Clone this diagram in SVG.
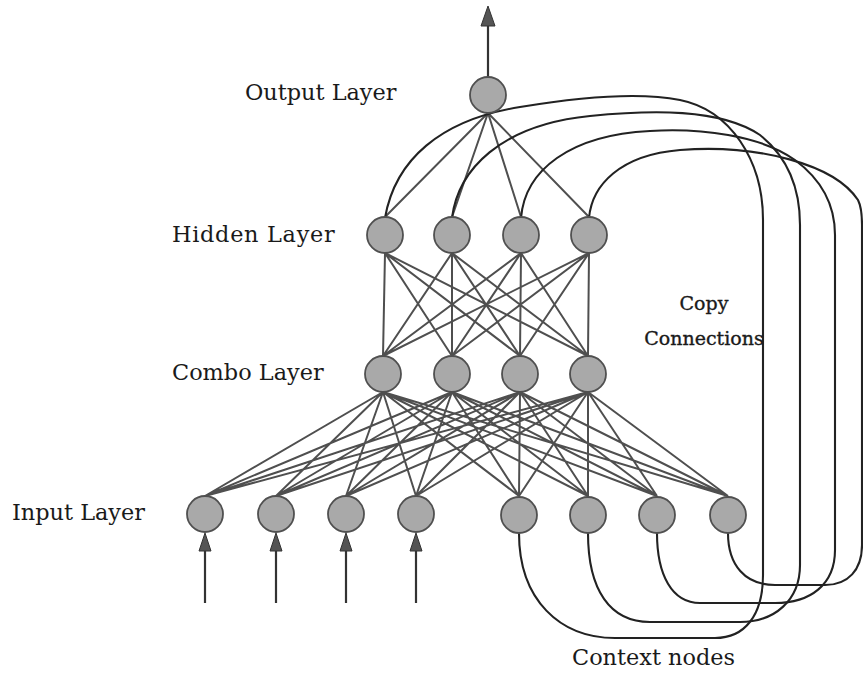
<svg xmlns="http://www.w3.org/2000/svg" width="863" height="673" viewBox="0 0 863 673">
<defs>
<style>
.bg{fill:#ffffff}
.node{fill:#a9a9a9;stroke:#505050;stroke-width:1.8}
.w{stroke:#4f4f4f;stroke-width:2;fill:none}
.cp{stroke:#222;stroke-width:2.1;fill:none}
.arr{stroke:#333;stroke-width:2.2;fill:none}
.head{fill:#555;stroke:#333;stroke-width:1}
.lbl{font-family:"DejaVu Serif","Liberation Serif",serif;font-size:22.4px;fill:#1a1a1a}
.lbl2{font-family:"DejaVu Serif","Liberation Serif",serif;font-size:19px;fill:#1a1a1a;stroke:#1a1a1a;stroke-width:0.35}
</style>
</defs>
<rect class="bg" x="0" y="0" width="863" height="673"/>

<g id="connectors">
  <!-- output arrow -->
  <line class="arr" x1="488" y1="77" x2="488" y2="24"/>
  <polygon class="head" points="488,6 481,26 495,26"/>
  <!-- input arrows -->
  <line class="arr" x1="205" y1="603" x2="205" y2="550"/>
  <polygon class="head" points="205,533 199,551 211,551"/>
  <line class="arr" x1="276" y1="603" x2="276" y2="550"/>
  <polygon class="head" points="276,533 270,551 282,551"/>
  <line class="arr" x1="346" y1="603" x2="346" y2="550"/>
  <polygon class="head" points="346,533 340,551 352,551"/>
  <line class="arr" x1="416" y1="603" x2="416" y2="550"/>
  <polygon class="head" points="416,533 410,551 422,551"/>

  <!-- output to hidden -->
  <path class="w" d="M488,113 L385,217 M488,113 L452,217 M488,113 L521,217 M488,113 L589,217"/>

  <!-- hidden to combo -->
  <path class="w" d="M385,253 L383,356 M385,253 L452,356 M385,253 L520,356 M385,253 L588,356
  M452,253 L383,356 M452,253 L452,356 M452,253 L520,356 M452,253 L588,356
  M521,253 L383,356 M521,253 L452,356 M521,253 L520,356 M521,253 L588,356
  M589,253 L383,356 M589,253 L452,356 M589,253 L520,356 M589,253 L588,356"/>

  <!-- combo to input -->
  <path class="w" d="M383,392 L205,496 M383,392 L276,496 M383,392 L346,496 M383,392 L416,496 M383,392 L519,496 M383,392 L588,496 M383,392 L657,496 M383,392 L728,496
  M452,392 L205,496 M452,392 L276,496 M452,392 L346,496 M452,392 L416,496 M452,392 L519,496 M452,392 L588,496 M452,392 L657,496 M452,392 L728,496
  M520,392 L205,496 M520,392 L276,496 M520,392 L346,496 M520,392 L416,496 M520,392 L519,496 M520,392 L588,496 M520,392 L657,496 M520,392 L728,496
  M588,392 L205,496 M588,392 L276,496 M588,392 L346,496 M588,392 L416,496 M588,392 L519,496 M588,392 L588,496 M588,392 L657,496 M588,392 L728,496"/>

  <!-- copy connections -->
  <path class="cp" d="M385,218 C395,160 440,120 520,107 C580,97 640,92 680,100 C730,110 763,160 763,220 L763,575 C763,615 745,638 715,638 L615,638 C560,638 519,600 519,533"/>
  <path class="cp" d="M452,218 C458,170 500,125 590,116 C650,110 720,108 760,135 C785,155 800,185 800,225 L800,565 C800,600 775,622 740,622 L650,622 C610,622 588,590 588,533"/>
  <path class="cp" d="M521,218 C525,170 570,135 650,131 C700,128 760,135 795,160 C822,180 835,205 835,235 L835,550 C835,585 810,603 775,603 L700,603 C672,603 657,575 657,533"/>
  <path class="cp" d="M589,218 C592,185 620,155 680,150 C760,144 835,165 858,200 C861,206 862,215 862,225 L862,545 C862,570 848,585 825,585 L775,585 C745,585 728,565 728,533"/>
</g>

<g id="output-node"><circle class="node" cx="488" cy="95" r="18"/></g>
<g id="hidden-1"><circle class="node" cx="385" cy="235" r="18"/></g>
<g id="hidden-2"><circle class="node" cx="452" cy="235" r="18"/></g>
<g id="hidden-3"><circle class="node" cx="521" cy="235" r="18"/></g>
<g id="hidden-4"><circle class="node" cx="589" cy="235" r="18"/></g>
<g id="combo-1"><circle class="node" cx="383" cy="374" r="18"/></g>
<g id="combo-2"><circle class="node" cx="452" cy="374" r="18"/></g>
<g id="combo-3"><circle class="node" cx="520" cy="374" r="18"/></g>
<g id="combo-4"><circle class="node" cx="588" cy="374" r="18"/></g>
<g id="input-1"><circle class="node" cx="205" cy="514" r="18"/></g>
<g id="input-2"><circle class="node" cx="276" cy="514" r="18"/></g>
<g id="input-3"><circle class="node" cx="346" cy="514" r="18"/></g>
<g id="input-4"><circle class="node" cx="416" cy="514" r="18"/></g>
<g id="context-1"><circle class="node" cx="519" cy="515" r="18"/></g>
<g id="context-2"><circle class="node" cx="588" cy="515" r="18"/></g>
<g id="context-3"><circle class="node" cx="657" cy="515" r="18"/></g>
<g id="context-4"><circle class="node" cx="728" cy="515" r="18"/></g>

<g id="labels">
  <text class="lbl" x="245" y="100">Output Layer</text>
  <text class="lbl" x="172" y="242" letter-spacing="0.7">Hidden Layer</text>
  <text class="lbl" x="172" y="380">Combo Layer</text>
  <text class="lbl" x="12" y="520">Input Layer</text>
  <text class="lbl2" x="704" y="310" text-anchor="middle">Copy</text>
  <text class="lbl2" x="704" y="345" text-anchor="middle">Connections</text>
  <text class="lbl" x="572" y="665" font-size="23">Context nodes</text>
</g>
</svg>
